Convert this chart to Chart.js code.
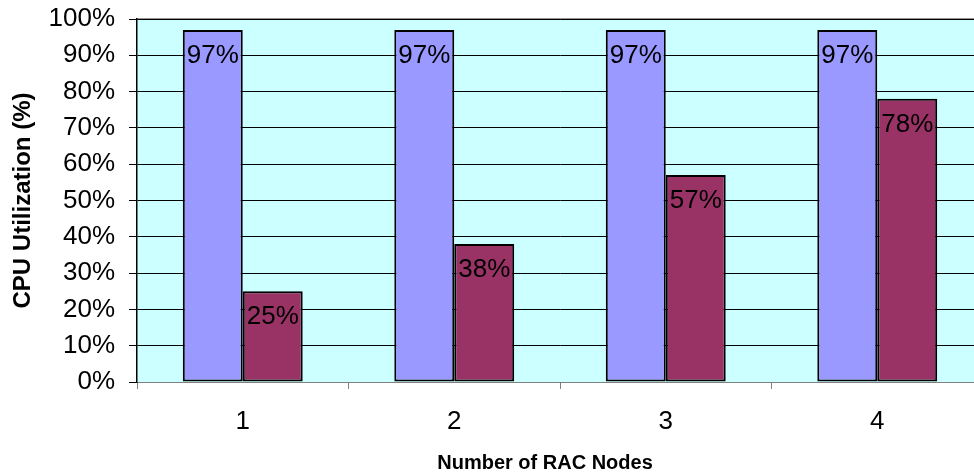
<!DOCTYPE html>
<html>
<head>
<meta charset="utf-8">
<script src="https://cdn.jsdelivr.net/npm/chart.js@4.4.1/dist/chart.umd.min.js"></script>
<style>
  html, body { margin: 0; padding: 0; background: #ffffff; overflow: hidden; }
  #wrap { width: 990px; height: 473px; }
</style>
</head>
<body>
<div id="wrap"><canvas id="c" width="990" height="473"></canvas></div>
<script>
// Categories and series values
const nodeCounts = ['1', '2', '3', '4'];
const seriesA = [97, 97, 97, 97];
const seriesB = [25, 38, 57, 78];
const yTicks = [0, 10, 20, 30, 40, 50, 60, 70, 80, 90, 100];
const xTitle = 'Number of RAC Nodes';
const yTitle = 'CPU Utilization (%)';

const FONT = "'Liberation Sans', Arial, sans-serif";

// Light cyan plot background with a grey top edge
const plotBackground = {
  id: 'plotBackground',
  beforeDraw(chart) {
    const { ctx, chartArea: a } = chart;
    ctx.save();
    ctx.fillStyle = '#CCFFFF';
    ctx.fillRect(a.left, a.top, a.right - a.left, a.bottom - a.top);
    ctx.strokeStyle = '#999999';
    ctx.lineWidth = 2;
    ctx.beginPath();
    ctx.moveTo(a.left, a.top);
    ctx.lineTo(a.right, a.top);
    ctx.stroke();
    ctx.restore();
  }
};

// Value labels inside the top of each bar, plus the category-axis title
const barLabels = {
  id: 'barLabels',
  afterDatasetsDraw(chart) {
    const { ctx } = chart;
    ctx.save();
    ctx.font = '26px ' + FONT;
    ctx.fillStyle = '#000000';
    ctx.textAlign = 'center';
    ctx.textBaseline = 'middle';
    chart.data.datasets.forEach((ds, di) => {
      const meta = chart.getDatasetMeta(di);
      meta.data.forEach((bar, i) => {
        ctx.fillText(ds.data[i] + '%', bar.x, bar.y + 26);
      });
    });
    ctx.font = 'bold 20px ' + FONT;
    ctx.fillText(xTitle, 545, 463);
    ctx.restore();
  }
};

new Chart(document.getElementById('c'), {
  type: 'bar',
  data: {
    labels: nodeCounts,
    datasets: [
      {
        label: 'Series 1',
        data: seriesA,
        backgroundColor: '#9999FF',
        borderColor: '#000000',
        borderWidth: 2,
        borderSkipped: false
      },
      {
        label: 'Series 2',
        data: seriesB,
        backgroundColor: '#993366',
        borderColor: '#000000',
        borderWidth: 2,
        borderSkipped: false
      }
    ]
  },
  options: {
    responsive: false,
    animation: false,
    devicePixelRatio: 1,
    layout: { padding: { top: 19, right: 7, left: 0, bottom: 0 } },
    datasets: { bar: { categoryPercentage: 0.567, barPercentage: 1.0 } },
    plugins: {
      legend: { display: false },
      tooltip: { enabled: false }
    },
    scales: {
      x: {
        type: 'category',
        offset: true,
        grid: {
          offset: true,
          drawOnChartArea: false,
          drawTicks: true,
          tickLength: 7,
          color: '#808080'
        },
        border: { color: '#808080', width: 1 },
        ticks: {
          font: { family: FONT, size: 26 },
          color: '#000000',
          padding: 17
        },
        afterFit(scale) {
          scale.height = 91;
          scale.paddingLeft = 0;
          scale.paddingRight = 0;
        }
      },
      y: {
        min: 0,
        max: 100,
        afterBuildTicks(scale) {
          scale.ticks = yTicks.map(v => ({ value: v }));
        },
        grid: {
          color: '#000000',
          lineWidth: 1,
          drawTicks: true,
          tickLength: 8
        },
        border: { color: '#000000', width: 1.5 },
        ticks: {
          font: { family: FONT, size: 26 },
          color: '#000000',
          padding: 14,
          callback: v => v + '%'
        },
        title: {
          display: true,
          text: yTitle,
          font: { family: FONT, size: 24, weight: 'bold', lineHeight: 1 },
          color: '#000000',
          padding: { top: 11, bottom: 0 }
        },
        afterFit(scale) {
          scale.width = 137;
          scale.paddingTop = 0;
          scale.paddingBottom = 0;
        }
      }
    }
  },
  plugins: [plotBackground, barLabels]
});
</script>
</body>
</html>
